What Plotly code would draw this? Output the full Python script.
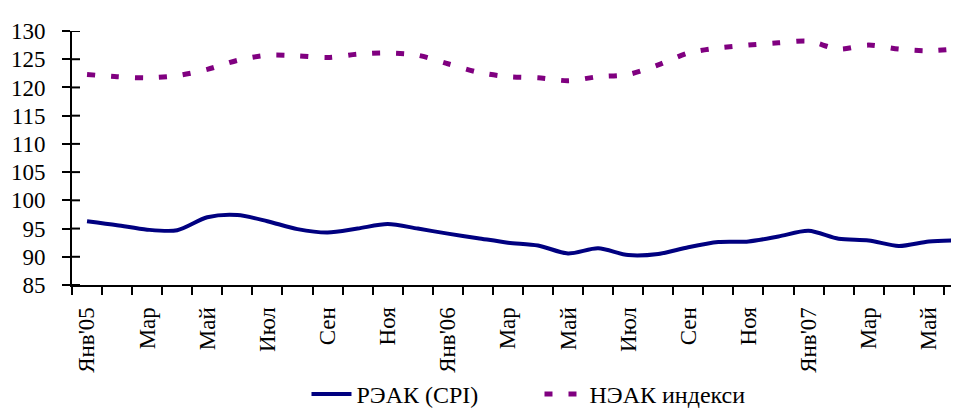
import plotly.graph_objects as go

months = ["Янв'05", "Фев", "Мар", "Апр", "Май", "Июн", "Июл", "Авг", "Сен", "Окт", "Ноя", "Дек",
          "Янв'06", "Фев", "Мар", "Апр", "Май", "Июн", "Июл", "Авг", "Сен", "Окт", "Ноя", "Дек",
          "Янв'07", "Фев", "Мар", "Апр", "Май", "Июн"]

reer_cpi = [96.3, 95.6, 94.8, 94.7, 97.0, 97.4, 96.3, 94.9, 94.3, 95.0, 95.8, 95.0,
            94.1, 93.3, 92.5, 92.0, 90.6, 91.5, 90.3, 90.5, 91.7, 92.6, 92.7, 93.6,
            94.6, 93.2, 92.9, 91.9, 92.7, 92.9]

neer = [122.3, 121.9, 121.7, 122.1, 123.2, 124.8, 125.7, 125.6, 125.3, 125.9, 126.1, 125.7,
        124.2, 122.7, 121.9, 121.7, 121.2, 121.9, 122.3, 124.0, 126.1, 127.0, 127.5, 127.9,
        128.2, 126.8, 127.5, 126.8, 126.5, 126.9]

label_idx = list(range(0, len(months), 2))
label_text = [months[i] for i in label_idx]
yticks = list(range(85, 131, 5))
x = list(range(len(months)))
boundaries = [i - 0.5 for i in range(len(months) + 1)]

FONT = "Liberation Serif"
xr = [-0.5, 29.27]
yr = [85, 130]

fig = go.Figure()
fig.add_trace(go.Scatter(x=x, y=reer_cpi, mode="lines", name="РЭАК (CPI)",
                         line=dict(color="#000080", width=4, shape="spline", smoothing=0.8)))
fig.add_trace(go.Scatter(x=x, y=neer, mode="lines", name="НЭАК индекси",
                         line=dict(color="#800080", width=5, dash="8px,16px", shape="spline", smoothing=0.8)))

# inner halves of the crossing tick marks (outer halves come from the axes)
tick_line = dict(color="black", width=2)
for b in boundaries:
    fig.add_shape(type="line", xref="x", yref="y", x0=b, x1=b,
                  ysizemode="pixel", yanchor=yr[0], y0=0, y1=-8, line=tick_line, layer="above")
for v in yticks:
    fig.add_shape(type="line", xref="x", yref="y", y0=v, y1=v,
                  xsizemode="pixel", xanchor=xr[0], x0=0, x1=8, line=tick_line, layer="above")

fig.update_layout(
    width=959, height=409,
    margin=dict(l=64, r=0, t=23, b=125),
    plot_bgcolor="white", paper_bgcolor="white",
    font=dict(family=FONT, size=23, color="black"),
    showlegend=True,
    legend=dict(orientation="h", x=0.262, xanchor="left", y=-0.433, yanchor="middle",
                font=dict(family=FONT, size=24), itemwidth=40, entrywidth=178,
                entrywidthmode="pixels", bgcolor="rgba(0,0,0,0)"),
    xaxis=dict(range=xr, showgrid=False, zeroline=False, showline=True, linecolor="black", linewidth=2,
               tickmode="array", tickvals=label_idx, ticktext=label_text, tickangle=-90,
               ticks="outside", ticklen=8, tickcolor="rgba(0,0,0,0)", ticklabelstandoff=3,
               minor=dict(tickmode="array", tickvals=boundaries, ticks="outside", ticklen=8,
                          tickwidth=2, tickcolor="black"),
               tickfont=dict(family=FONT, size=23)),
    yaxis=dict(range=yr, showgrid=False, zeroline=False, showline=True, linecolor="black", linewidth=2,
               tickmode="array", tickvals=yticks, ticks="outside", ticklen=8, tickwidth=2,
               tickcolor="black", ticklabelstandoff=12, tickfont=dict(family=FONT, size=23)),
)

fig.write_html("out.html")
